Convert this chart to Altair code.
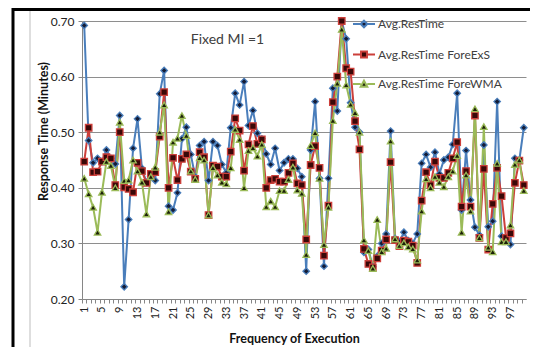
import altair as alt
import pandas as pd

series_names = ["Avg.ResTime", "Avg.ResTime ForeExS", "Avg.ResTime ForeWMA"]
executions = list(range(1, 101))

avg_restime = [
    0.692, 0.485, 0.445, 0.453, 0.447, 0.468, 0.453, 0.443, 0.530, 0.222,
    0.343, 0.471, 0.524, 0.435, 0.410, 0.420, 0.413, 0.569, 0.611, 0.367,
    0.360, 0.391, 0.488, 0.509, 0.460, 0.420, 0.476, 0.483, 0.413, 0.483,
    0.476, 0.442, 0.427, 0.508, 0.570, 0.549, 0.591, 0.512, 0.539, 0.498,
    0.488, 0.461, 0.442, 0.471, 0.431, 0.445, 0.452, 0.452, 0.435, 0.420,
    0.250, 0.468, 0.555, 0.417, 0.259, 0.417, 0.579, 0.538, 0.700, 0.668,
    0.553, 0.509, 0.500, 0.284, 0.289, 0.258, 0.277, 0.300, 0.317, 0.502,
    0.309, 0.303, 0.320, 0.305, 0.300, 0.317, 0.444, 0.460, 0.437, 0.464,
    0.425, 0.450, 0.455, 0.478, 0.570, 0.360, 0.467, 0.378, 0.329, 0.315,
    0.477, 0.330, 0.340, 0.555, 0.313, 0.305, 0.298, 0.453, 0.450, 0.508,
]
fore_exs = [
    0.447, 0.508, 0.428, 0.429, 0.447, 0.455, 0.453, 0.405, 0.500, 0.401,
    0.398, 0.392, 0.445, 0.430, 0.409, 0.425, 0.428, 0.492, 0.572, 0.400,
    0.454, 0.414, 0.452, 0.460, 0.429, 0.416, 0.464, 0.455, 0.351, 0.440,
    0.438, 0.420, 0.420, 0.465, 0.525, 0.503, 0.431, 0.478, 0.511, 0.479,
    0.487, 0.400, 0.414, 0.416, 0.411, 0.411, 0.427, 0.444, 0.408, 0.405,
    0.307, 0.441, 0.475, 0.436, 0.278, 0.368, 0.554, 0.600, 0.700, 0.615,
    0.609, 0.520, 0.469, 0.290, 0.263, 0.257, 0.273, 0.287, 0.307, 0.446,
    0.306, 0.295, 0.305, 0.303, 0.296, 0.265, 0.377, 0.428, 0.405, 0.447,
    0.418, 0.418, 0.427, 0.453, 0.482, 0.366, 0.430, 0.366, 0.530, 0.310,
    0.434, 0.289, 0.371, 0.436, 0.385, 0.310, 0.318, 0.409, 0.449, 0.405,
]
fore_wma = [
    0.417, 0.389, 0.365, 0.320, 0.392, 0.447, 0.440, 0.400, 0.518, 0.413,
    0.414, 0.450, 0.430, 0.410, 0.353, 0.420, 0.437, 0.500, 0.549, 0.357,
    0.482, 0.489, 0.530, 0.494, 0.430, 0.415, 0.454, 0.450, 0.351, 0.436,
    0.423, 0.410, 0.407, 0.436, 0.505, 0.487, 0.400, 0.467, 0.472, 0.457,
    0.478, 0.366, 0.376, 0.366, 0.395, 0.395, 0.415, 0.437, 0.396, 0.390,
    0.280, 0.476, 0.499, 0.417, 0.298, 0.365, 0.521, 0.588, 0.685, 0.585,
    0.550, 0.535, 0.500, 0.306, 0.287, 0.255, 0.343, 0.285, 0.291, 0.484,
    0.308, 0.296, 0.301, 0.294, 0.290, 0.270, 0.358, 0.416, 0.400, 0.420,
    0.410, 0.402, 0.420, 0.430, 0.458, 0.320, 0.423, 0.358, 0.542, 0.310,
    0.510, 0.293, 0.285, 0.444, 0.303, 0.303, 0.333, 0.442, 0.450, 0.395,
]

y_ticks = [0.2, 0.3, 0.4, 0.5, 0.6, 0.7]
x_tick_values = list(range(1, 102))
annotation_text = "Fixed MI =1"

rows = []
for name, vals in zip(series_names, [avg_restime, fore_exs, fore_wma]):
    for i, v in zip(executions, vals):
        rows.append({"exec": i, "value": v, "series": name})
df = pd.DataFrame(rows)

line_colors = ["#4a7ebb", "#cc3f3a", "#9bbb59"]
marker_fills = ["#141c36", "#3a0808", "#1c2008"]
marker_shapes = ["diamond", "square", "triangle-up"]
legend_paths = [
    "M-1,0H-0.3M0.3,0H1M0,-0.3L0.3,0L0,0.3L-0.3,0Z",
    "M-1,0H-0.27M0.27,0H1M-0.27,-0.27H0.27V0.27H-0.27Z",
    "M-1,0H-0.3M0.3,0H1M0,-0.3L0.3,0.25H-0.3Z",
]

FONT = "Lato"
PW = 444.0
half_cat = PW / 100 / 2

x_enc = alt.X(
    "exec:Q",
    scale=alt.Scale(domain=[0.5, 100.5], nice=False, zero=False),
    axis=alt.Axis(
        values=x_tick_values,
        format="d",
        labelExpr="(datum.value % 4 == 1 && datum.value < 100) ? datum.label : ''",
        tickOffset=-half_cat,
        labelOffset=half_cat,
        labelAngle=-90,
        labelOverlap=False,
        labelFlush=False,
        labelBound=False,
        labelFont=FONT,
        labelFontSize=11,
        labelColor="#222222",
        labelPadding=3,
        tickSize=4,
        tickColor="#868686",
        domainColor="#868686",
        grid=False,
        title="Frequency of Execution",
        titleFont=FONT,
        titleFontSize=12.5,
        titleFontWeight="bold",
        titleColor="#111111",
        titleX=212,
        titleY=39,
        titleAlign="center",
        titleBaseline="middle",
    ),
)
y_enc = alt.Y(
    "value:Q",
    scale=alt.Scale(domain=[0.2, 0.7], nice=False, zero=False),
    axis=alt.Axis(
        values=y_ticks,
        format=".2f",
        labelFont=FONT,
        labelFontSize=12,
        labelColor="#222222",
        labelPadding=4,
        tickSize=4,
        tickColor="#868686",
        domainColor="#868686",
        gridColor="#8e8e8e",
        gridWidth=1,
        title="Response Time (Minutes)",
        titleFont=FONT,
        titleFontSize=12.5,
        titleFontWeight="bold",
        titleColor="#111111",
        titleX=-39,
        titleY=110,
        titleAlign="center",
        titleBaseline="middle",
    ),
)

dom = alt.Scale(domain=series_names, range=line_colors)
fill_scale = alt.Scale(domain=series_names, range=marker_fills)

lines = alt.Chart(df).mark_line(strokeWidth=2).encode(
    x=x_enc, y=y_enc,
    color=alt.Color("series:N", scale=dom, legend=None),
    detail="series:N",
)

points = alt.Chart(df).mark_point(size=42, strokeWidth=1.3, opacity=1).encode(
    x=x_enc, y=y_enc,
    shape=alt.Shape("series:N", scale=alt.Scale(domain=series_names, range=marker_shapes), legend=None),
    fill=alt.Fill("series:N", scale=fill_scale, legend=None),
    stroke=alt.Stroke("series:N", scale=dom, legend=None),
)

legend_layer = alt.Chart(df).mark_point(opacity=0, size=1).encode(
    x=x_enc, y=y_enc,
    shape=alt.Shape(
        "series:N",
        scale=alt.Scale(domain=series_names, range=legend_paths),
        legend=alt.Legend(
            title=None, orient="none", legendX=270, legendY=-9,
            symbolSize=484, symbolStrokeWidth=2, symbolOpacity=1,
            rowPadding=10.5, labelOffset=2, padding=0,
            labelFont=FONT, labelFontSize=12, labelColor="#404040",
        ),
    ),
    fill=alt.Fill("series:N", scale=fill_scale),
    stroke=alt.Stroke("series:N", scale=dom),
)

ann_df = pd.DataFrame({"exec": [25], "value": [0.665], "label": [annotation_text]})
annotation = alt.Chart(ann_df).mark_text(
    align="left", baseline="middle", font=FONT, fontSize=14, color="#404040"
).encode(x=x_enc, y=y_enc, text="label:N")

one = pd.DataFrame({"k": [0]})
left_black = alt.Chart(one).mark_rule(color="#000000", strokeWidth=3).encode(
    x=alt.value(-69), y=alt.value(-13), y2=alt.value(326))
top_black = alt.Chart(one).mark_rule(color="#000000", strokeWidth=3).encode(
    x=alt.value(-70), x2=alt.value(448), y=alt.value(-11.5))
left_grey = alt.Chart(one).mark_rule(color="#bdbdbd", strokeWidth=1).encode(
    x=alt.value(-52), y=alt.value(-10), y2=alt.value(326))

chart = alt.layer(
    lines, points, legend_layer, annotation, left_grey, left_black, top_black
).resolve_scale(
    shape="independent", fill="independent", stroke="independent", color="independent"
).properties(
    width=PW, height=278,
    autosize=alt.AutoSizeParams(type="none"),
    padding={"left": 74, "top": 13, "right": 4, "bottom": 48},
    background="white",
).configure_view(stroke=None).configure_axis(labelOverlap=False)

chart.save("out.html", embed_options={"renderer": "svg", "actions": False})
